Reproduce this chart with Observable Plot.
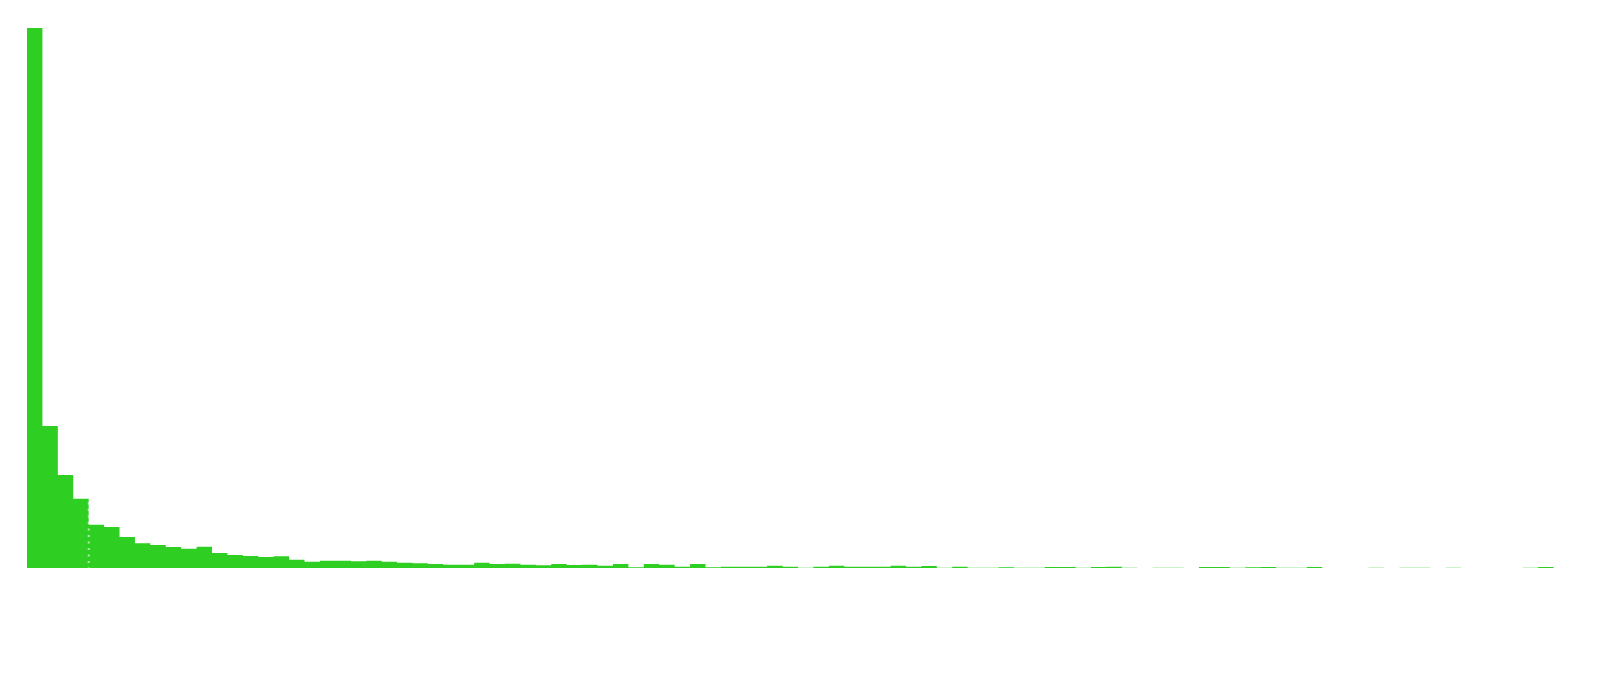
<!DOCTYPE html>
<html>
<head>
<meta charset="utf-8">
<script src="https://cdn.jsdelivr.net/npm/d3@7"></script>
<script src="https://cdn.jsdelivr.net/npm/@observablehq/plot@0.6"></script>
<style>
  html, body { margin: 0; padding: 0; background: #ffffff; }
  #chart svg { display: block; }
</style>
</head>
<body>
<div id="chart"></div>
<script>
// Histogram bins (bin index = left edge), counts per bin
const binStart = d3.range(0, 99);
const counts = [
  1620, 426, 279, 208, 130, 123, 93, 74, 69, 63,
  58, 64, 45, 39, 36, 33, 35, 25, 19, 22,
  22, 20, 22, 19, 16, 14, 12, 10, 10, 16,
  12, 13, 10, 8, 12, 9, 10, 7, 12, 2,
  12, 10, 4, 12, 2, 4, 4, 4, 7, 4,
  1, 4, 7, 4, 4, 4, 7, 4, 6, 1,
  4, 1, 1, 2, 1, 1, 3, 3, 1, 3,
  4, 1, 0, 1, 1, 0, 3, 3, 1, 2,
  3, 1, 1, 3, 0, 0, 0, 1, 0, 1,
  1, 0, 1, 0, 0, 0, 0, 1, 3
];
// Reference marker (dotted rule)
const markers = [3.97];

// Step outline of the histogram: one point per bin start, plus the right edge of the last bin
const steps = binStart.map((b, i) => ({x: b, count: counts[i]}));
steps.push({x: binStart[binStart.length - 1] + 1, count: counts[counts.length - 1]});

const chart = Plot.plot({
  width: 1600,
  height: 674,
  marginLeft: 27,
  marginRight: 31,
  marginTop: 28,
  marginBottom: 106,
  x: {domain: [0, 100], axis: null},
  y: {domain: [0, 1620], axis: null},
  marks: [
    Plot.areaY(steps, {x: "x", y: "count", fill: "#2ecf22", curve: "step-after"}),
    Plot.ruleX(markers, {stroke: "#ffffff", strokeOpacity: 0.65, strokeWidth: 2, strokeDasharray: "2,4.5"})
  ]
});
document.getElementById("chart").appendChild(chart);
</script>
</body>
</html>
